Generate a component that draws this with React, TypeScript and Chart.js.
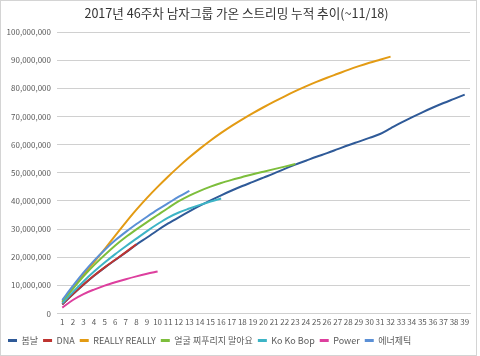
import React, { useEffect, useRef } from "react";
import { Chart, registerables } from "chart.js";

Chart.register(...registerables);

const TITLE = "2017년 46주차 남자그룹 가온 스트리밍 누적 추이(~11/18)";

const WEEKS = [
  "1", "2", "3", "4", "5", "6", "7", "8", "9", "10",
  "11", "12", "13", "14", "15", "16", "17", "18", "19", "20",
  "21", "22", "23", "24", "25", "26", "27", "28", "29", "30",
  "31", "32", "33", "34", "35", "36", "37", "38", "39",
];

const Y_TICKS = [0, 10000000, 20000000, 30000000, 40000000, 50000000, 60000000, 70000000, 80000000, 90000000, 100000000];

const SPRING_DAY = [
  3200000, 6800000, 10200000, 13400000, 16300000, 19000000, 21700000, 24500000, 27000000, 29600000,
  32000000, 34200000, 36300000, 38300000, 40200000, 42000000, 43700000, 45300000, 46800000, 48300000,
  49800000, 51400000, 52900000, 54300000, 55700000, 57000000, 58400000, 59800000, 61100000, 62400000,
  63800000, 65800000, 67800000, 69700000, 71500000, 73200000, 74800000, 76300000, 77800000,
];

const DNA = [3300000, 6900000, 10300000, 13500000, 16400000, 19100000, 21800000, 24600000];

const REALLY_REALLY = [
  4000000, 9000000, 13800000, 18300000, 22900000, 27700000, 32400000, 36900000, 41100000, 45000000,
  48700000, 52200000, 55500000, 58600000, 61500000, 64200000, 66700000, 69000000, 71200000, 73300000,
  75300000, 77200000, 79000000, 80700000, 82300000, 83800000, 85200000, 86600000, 87900000, 89100000,
  90200000, 91300000,
];

const DONT_FROWN = [
  4200000, 8800000, 13200000, 17200000, 20800000, 24200000, 27200000, 29900000, 32500000, 35000000,
  37500000, 39900000, 41900000, 43600000, 45100000, 46400000, 47500000, 48500000, 49500000, 50400000,
  51300000, 52200000, 53100000,
];

const KO_KO_BOP = [
  3600000, 7600000, 11400000, 14900000, 18100000, 21100000, 23900000, 26600000, 29300000, 31800000,
  34100000, 35900000, 37300000, 38600000, 39800000, 40900000,
];

const POWER = [2100000, 4800000, 6900000, 8500000, 9900000, 11100000, 12200000, 13200000, 14100000, 14900000];

const ENERGETIC = [
  4800000, 9800000, 14500000, 18800000, 22600000, 26000000, 29000000, 31800000, 34400000, 36900000,
  39200000, 41500000, 43600000,
];

const SERIES_NAMES = ["봄날", "DNA", "REALLY REALLY", "얼굴 찌푸리지 말아요", "Ko Ko Bop", "Power", "에너제틱"];
const SERIES_VALUES = [SPRING_DAY, DNA, REALLY_REALLY, DONT_FROWN, KO_KO_BOP, POWER, ENERGETIC];
const SERIES_COLORS = ["#2F5A98", "#BE3430", "#E39B14", "#7DBE3C", "#3DB4C6", "#DD3F9E", "#5B90D6"];

const FONT = "'Noto Sans CJK KR', 'Noto Sans', sans-serif";

export default function App() {
  const ref = useRef<HTMLCanvasElement | null>(null);

  useEffect(() => {
    if (!ref.current) return;
    const datasets = SERIES_NAMES.map((name, i) => ({
      label: name,
      data: SERIES_VALUES[i],
      borderColor: SERIES_COLORS[i],
      backgroundColor: SERIES_COLORS[i],
      borderWidth: 2,
      pointRadius: 0,
      pointHoverRadius: 0,
      fill: false,
      cubicInterpolationMode: "monotone",
      order: -i,
    }));

    const chart = new Chart(ref.current, {
      type: "line",
      data: { labels: WEEKS, datasets },
      options: {
        animation: false,
        responsive: false,
        devicePixelRatio: 1,
        layout: { padding: { left: 3, right: 10, top: 0, bottom: 1 } },
        plugins: {
          title: {
            display: true,
            text: TITLE,
            color: "#333333",
            font: { family: FONT, size: 12.6, weight: "normal" },
            padding: { top: 6, bottom: 11 },
          },
          legend: {
            display: true,
            position: "bottom",
            align: "start",
            reverse: true,
            labels: {
              color: "#595959",
              font: { family: FONT, size: 9 },
              boxWidth: 9,
              boxHeight: 3,
              padding: 5,
              generateLabels: (c: any) => {
                const items = (Chart as any).defaults.plugins.legend.labels.generateLabels(c);
                return items.map((it: any) => ({ ...it, lineWidth: 0 }));
              },
            },
          },
          tooltip: { enabled: false },
        },
        scales: {
          x: {
            type: "category",
            offset: true,
            grid: { display: false, drawTicks: false },
            border: { display: true, color: "#d0d0d0", width: 1 },
            ticks: {
              autoSkip: false,
              maxRotation: 0,
              minRotation: 0,
              padding: 4,
              color: "#595959",
              font: { family: FONT, size: 8 },
            },
            afterFit: (scale: any) => {
              scale.height = 17.5;
            },
          },
          y: {
            min: 0,
            max: 100000000,
            afterBuildTicks: (scale: any) => {
              scale.ticks = Y_TICKS.map((v) => ({ value: v }));
            },
            grid: { color: "#d0d0d0", lineWidth: 1, drawTicks: false },
            border: { display: false },
            ticks: {
              padding: 6,
              color: "#595959",
              font: { family: FONT, size: 8 },
              callback: (v: any) => Number(v).toLocaleString("en-US"),
            },
            afterFit: (scale: any) => {
              scale.width = 54;
            },
          },
        },
      },
    });
    return () => chart.destroy();
  }, []);

  return (
    <div style={{ position: "fixed", left: 0, top: 0, width: 480, height: 356, background: "#ffffff" }}>
      <canvas ref={ref} width={480} height={356} style={{ display: "block", width: 480, height: 356 }} />
      <div
        style={{
          position: "absolute",
          left: 0,
          top: 0,
          width: 477,
          height: 356,
          boxSizing: "border-box",
          border: "1px solid #d4d4d4",
          pointerEvents: "none",
        }}
      />
    </div>
  );
}
